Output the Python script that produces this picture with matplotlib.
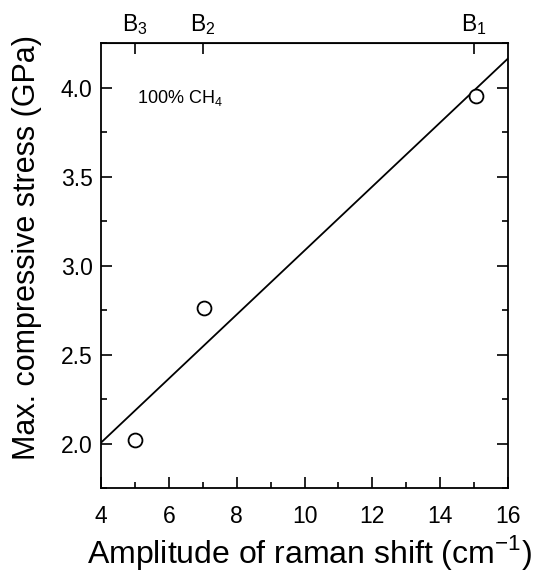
import numpy as np
import matplotlib
matplotlib.use("Agg")
import matplotlib.pyplot as plt
from matplotlib.ticker import MultipleLocator

plt.rcParams['font.family'] = ['Liberation Sans', 'DejaVu Sans']
plt.rcParams['mathtext.fontset'] = 'custom'
plt.rcParams['mathtext.rm'] = 'Liberation Sans'

# data
raman_shift = [5.0, 7.05, 15.05]
max_stress = [2.02, 2.76, 3.95]
sample_labels = ['B$_3$', 'B$_2$', 'B$_1$']
sample_positions = [5, 7, 15]

fig = plt.figure(figsize=(5.42, 5.73), dpi=100)
ax = fig.add_axes([101/542, 1-488/573, 407/542, 445/573])

# linear fit
slope, intercept = np.polyfit(raman_shift, max_stress, 1)
xfit = np.array([4, 16])
ax.plot(xfit, slope*xfit + intercept, color='black', lw=1.3, clip_on=True)

ax.plot(raman_shift, max_stress, 'o', mfc='white', mec='black', ms=10, mew=1.3)

ax.set_xlim(4, 16)
ax.set_ylim(1.75, 4.25)
ax.xaxis.set_major_locator(MultipleLocator(2))
ax.xaxis.set_minor_locator(MultipleLocator(1))
ax.yaxis.set_major_locator(MultipleLocator(0.5))
ax.yaxis.set_minor_locator(MultipleLocator(0.25))
ax.yaxis.set_major_formatter(plt.FormatStrFormatter('%.1f'))

ax.tick_params(axis='x', which='both', direction='in', top=False, labelsize=16.5, pad=12)
ax.tick_params(axis='y', which='both', direction='in', right=True, labelsize=16.5, pad=6)
ax.tick_params(which='major', length=8, width=1.2)
ax.tick_params(which='minor', length=4, width=1.2)
for s in ax.spines.values():
    s.set_linewidth(1.3)

top = ax.secondary_xaxis('top')
top.set_xticks(sample_positions)
top.set_xticklabels(sample_labels)
top.tick_params(direction='in', length=8, width=1.2, labelsize=16.5, pad=4)

ax.text(5.05, 3.94, '100% CH$_4$', fontsize=13, ha='left', va='center')

ax.set_xlabel('Amplitude of raman shift (cm$^{-1}$)', fontsize=23, va='center')
ax.xaxis.set_label_coords(0.513, -0.144)
ax.set_ylabel('Max. compressive stress (GPa)', fontsize=22, va='center')
ax.yaxis.set_label_coords(-0.182, 0.54)

fig.savefig('out.png', dpi=100)
